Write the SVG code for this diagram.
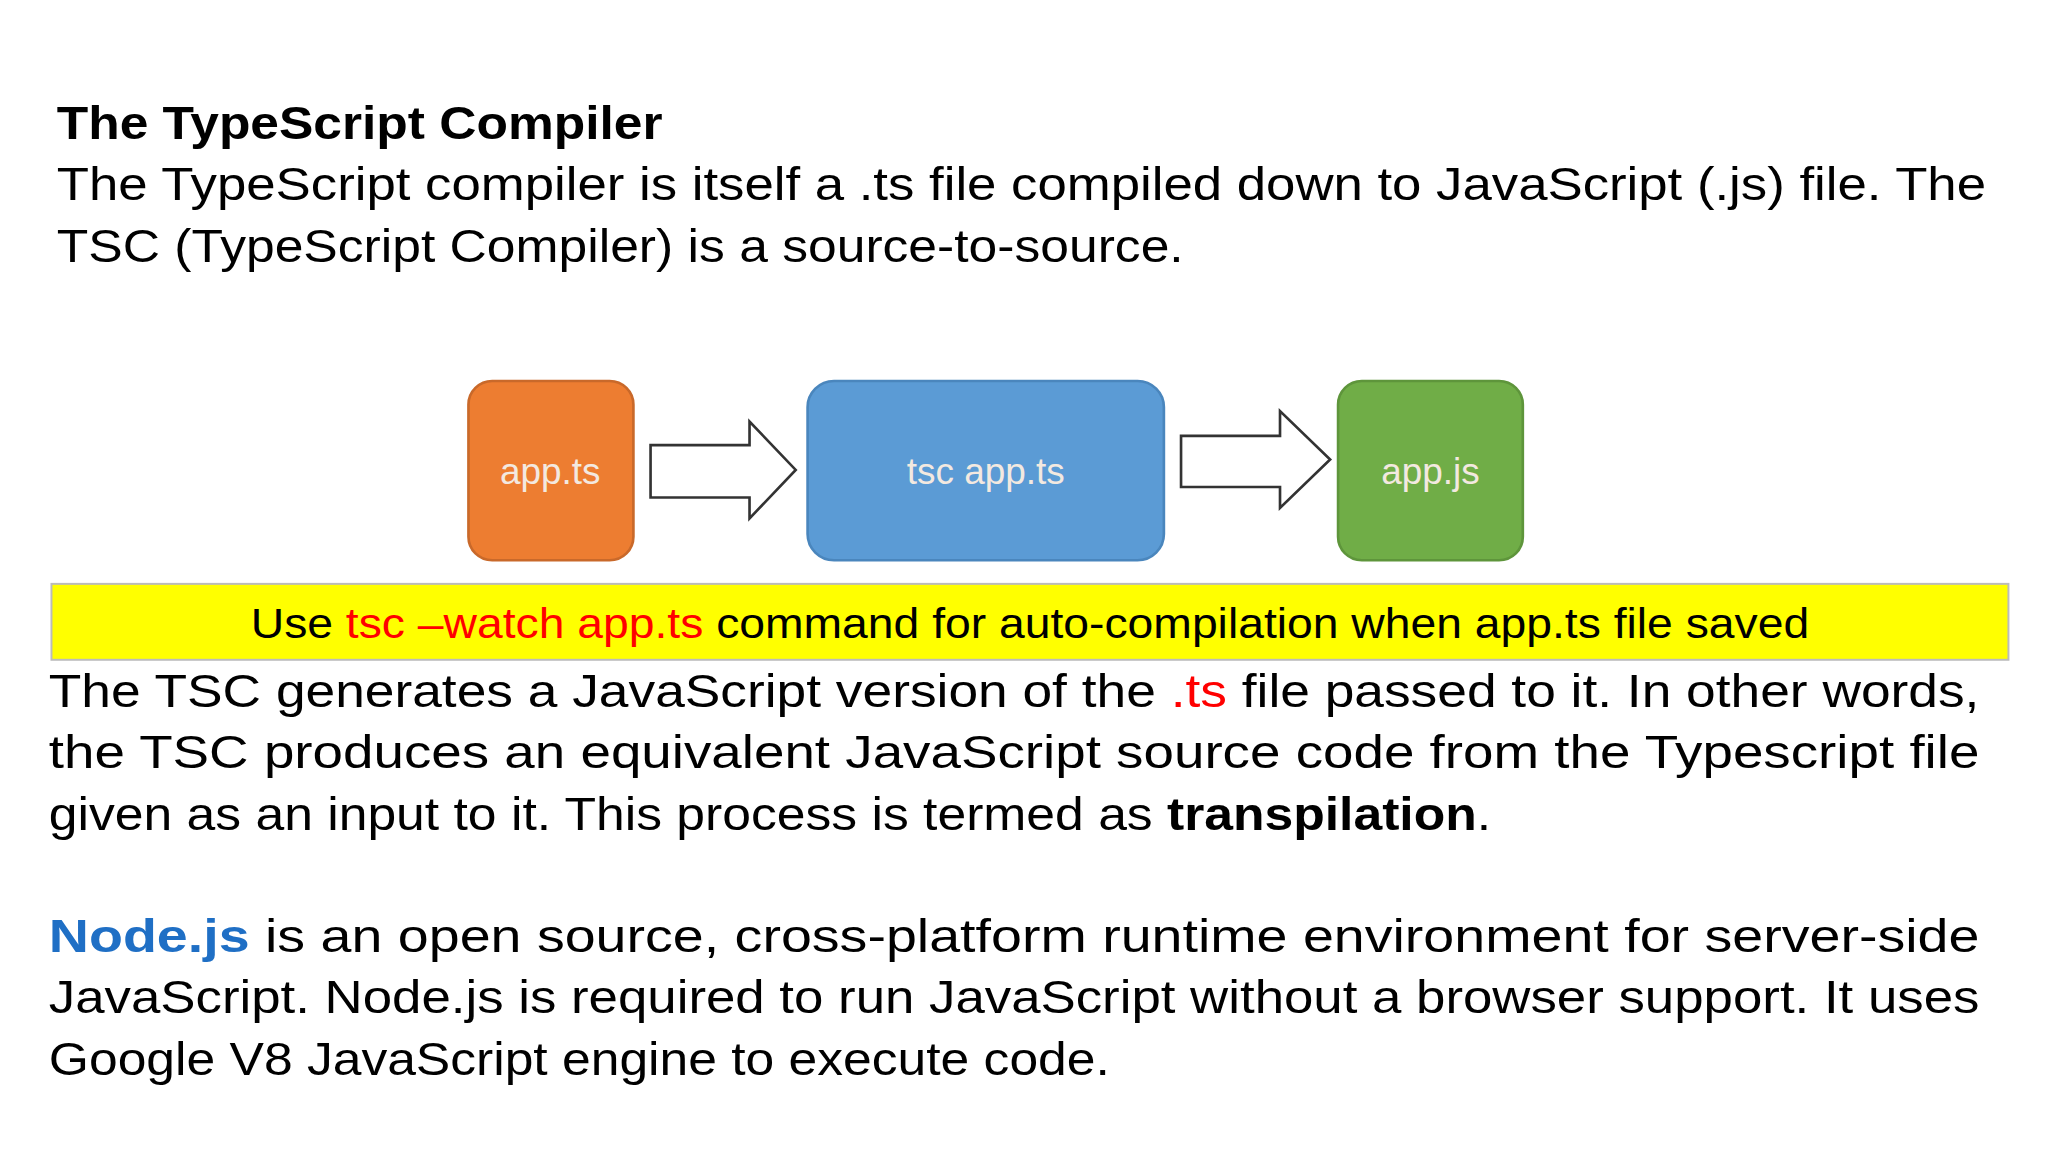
<svg xmlns="http://www.w3.org/2000/svg" width="2048" height="1152" viewBox="0 0 2048 1152">
<style>
text{font-family:"Liberation Sans",Arial,sans-serif;fill:#000}
.p{font-size:36px}
.b{font-weight:bold}
.r{fill:#FF0000}
.lbl{font-size:28px;fill:#F3E9E0;text-anchor:middle}
.arr{fill:#fff;stroke:#333;stroke-width:2}
</style>
<rect width="2048" height="1152" fill="#fff"/>
<g transform="scale(1.3196 1.3091)">
<g id="title">
<text x="43" y="106" class="p b" textLength="459" lengthAdjust="spacingAndGlyphs">The TypeScript Compiler</text>
<text x="43" y="153" class="p" textLength="1462" lengthAdjust="spacingAndGlyphs">The TypeScript compiler is itself a .ts file compiled down to JavaScript (.js) file. The</text>
<text x="43" y="200" class="p" textLength="854" lengthAdjust="spacingAndGlyphs">TSC (TypeScript Compiler) is a source-to-source.</text>
</g>
<g id="node-appts"><rect x="355" y="291" width="125" height="137" rx="18" fill="#ED7D31" stroke="#c9692a" stroke-width="2"/><text x="417" y="370" class="lbl">app.ts</text></g>
<g id="node-tsc"><rect x="612" y="291" width="270" height="137" rx="20" fill="#5B9BD5" stroke="#4a86bd" stroke-width="2"/><text x="747" y="370" class="lbl">tsc app.ts</text></g>
<g id="node-appjs"><rect x="1014" y="291" width="140" height="137" rx="18" fill="#70AD47" stroke="#5e953b" stroke-width="2"/><text x="1084" y="370" class="lbl">app.js</text></g>
<g id="connectors">
<path class="arr" d="M493 340H568V322L603 359L568 396V380H493Z"/>
<path class="arr" d="M895 333H970V314L1008 351L970 388V372H895Z"/>
</g>
<g id="note">
<rect x="39" y="446" width="1483" height="58" fill="#FFFF00" stroke="#bbb" stroke-width="1.5"/>
<text x="190" y="487" style="font-size:32px" textLength="1181" lengthAdjust="spacingAndGlyphs">Use <tspan class="r">tsc –watch app.ts</tspan>  command for auto-compilation when app.ts file saved</text>
</g>
<g id="para1">
<text x="37" y="540" class="p" textLength="1463" lengthAdjust="spacingAndGlyphs">The TSC generates a JavaScript version of the <tspan class="r">.ts</tspan> file passed to it. In other words,</text>
<text x="37" y="587" class="p" textLength="1463" lengthAdjust="spacingAndGlyphs">the TSC produces an equivalent JavaScript source code from the Typescript file</text>
<text x="37" y="634" class="p" textLength="1093" lengthAdjust="spacingAndGlyphs">given as an input to it. This process is termed as <tspan class="b">transpilation</tspan>.</text>
</g>
<g id="para2">
<text x="37" y="727" class="p" textLength="1463" lengthAdjust="spacingAndGlyphs"><tspan class="b" style="fill:#1F6FC5">Node.js</tspan> is an open source, cross-platform runtime environment for server-side</text>
<text x="37" y="774" class="p" textLength="1463" lengthAdjust="spacingAndGlyphs">JavaScript. Node.js is required to run JavaScript without a browser support. It uses</text>
<text x="37" y="821" class="p" textLength="804" lengthAdjust="spacingAndGlyphs">Google V8 JavaScript engine to execute code.</text>
</g>
</g>
</svg>
